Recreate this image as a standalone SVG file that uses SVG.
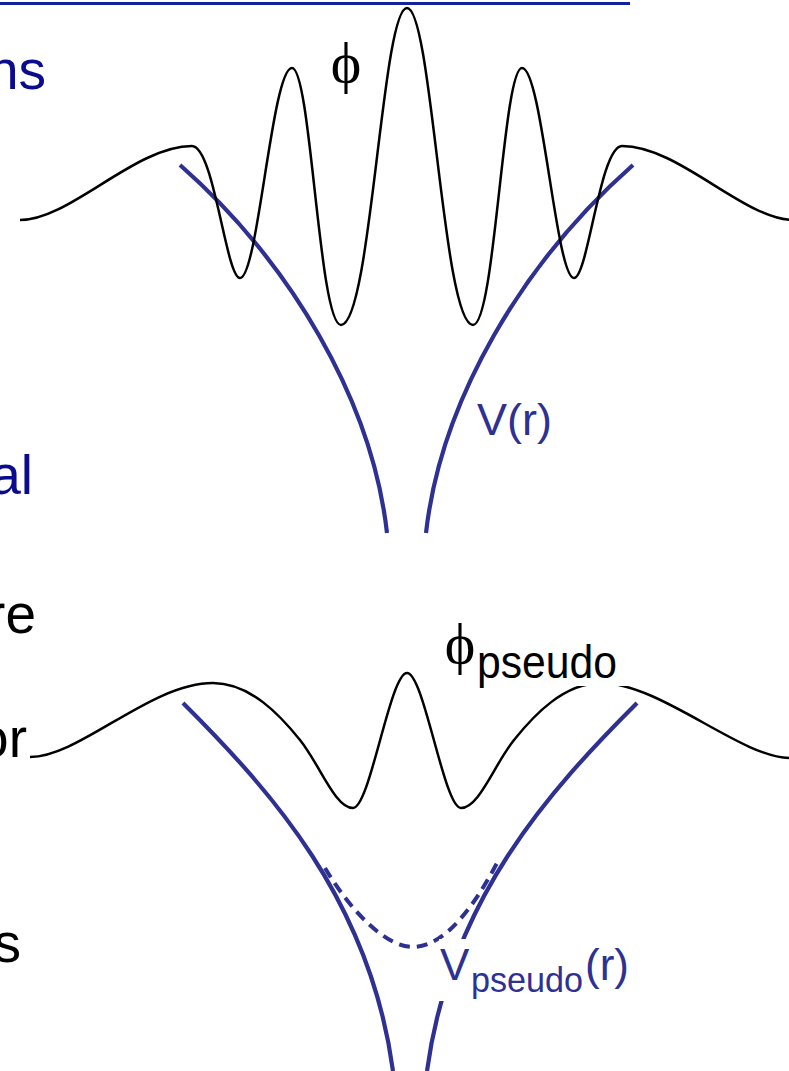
<svg xmlns="http://www.w3.org/2000/svg" width="789" height="1071" viewBox="0 0 789 1071">
<style>
.wf{fill:none;stroke:#000;stroke-width:2.5;stroke-linejoin:round}
.pot{fill:none;stroke:#2e3192;stroke-width:4.2}
.dash{fill:none;stroke:#2e3192;stroke-width:4;stroke-dasharray:11 7}
.side{font-family:"Liberation Sans",Arial,sans-serif;font-size:55px;text-anchor:end}
.navy{fill:#0b0b8e}
.blk{fill:#000}
.vlab{font-family:"Liberation Sans",Arial,sans-serif;fill:#2e3192}
.phi{font-family:"Liberation Serif","DejaVu Serif",serif;fill:#000}
.sub{font-family:"Liberation Sans",Arial,sans-serif;fill:#000}
</style>
<rect width="789" height="1071" fill="#fff"/>
<g id="rule"><line x1="0" y1="3.5" x2="630" y2="3.5" stroke="#1221a0" stroke-width="3"/></g>
<g id="side-text">
<text class="side navy" x="46" y="89">ns</text>
<text class="side navy" x="33" y="494">al</text>
<text class="side blk" x="36" y="633">re</text>
<text class="side blk" x="27" y="757">or</text>
<text class="side blk" x="21" y="962">s</text>
</g>
<g id="potential-top">
<path class="pot" d="M180,165 C290,262 372,400 387,533"/>
<path class="pot" d="M633,165 C523,262 441,400 426,533"/>
</g>
<g id="wavefunction-top">
<path class="wf" d="M20,220 C70,220 135,146 192,146 C214,146 226,278 240,278 C258,278 272,68 292,68 C311,68 319,325 341,325 C371,325 382,8 407,8 C432,8 443,325 473,325 C495,325 503,68 522,68 C542,68 556,278 574,278 C588,278 600,146 622,146 C679,146 744,220 794,220"/>
</g>
<g id="label-phi"><text class="phi" x="346" y="82" font-size="58" text-anchor="middle">ϕ</text></g>
<g id="label-V"><text class="vlab" x="477" y="435" font-size="45">V(r)</text></g>
<g id="potential-bottom">
<path class="pot" d="M183,703 C270,790 370,900 393,1071"/>
<path class="pot" d="M637,703 C550,790 450,900 427,1071"/>
<path class="dash" d="M325,868 C350,910 385,947 413,947 C445,947 475,905 497,863"/>
</g>
<g id="wavefunction-bottom">
<path class="wf" d="M30,757 C80,757 150,683 213,683 C250,683 280,715 300,740 C320,765 335,808 353,808 C370,808 390,673 407,673 C424,673 444,808 461,808 C479,808 494,765 514,740 C534,715 564,683 601,683 C660,683 740,757 789,758"/>
</g>
<g id="label-phi-pseudo">
<rect x="476" y="640" width="156" height="46" fill="#fff"/>
<text class="phi" x="460" y="663" font-size="58" text-anchor="middle">ϕ</text>
<text class="sub" x="477" y="678" font-size="46" textLength="140" lengthAdjust="spacingAndGlyphs">pseudo</text>
</g>
<g id="label-V-pseudo">
<rect x="439" y="939" width="196" height="62" fill="#fff"/>
<text class="vlab" x="440" y="980" font-size="44">V</text>
<text class="vlab" x="471" y="992" font-size="35" textLength="112" lengthAdjust="spacingAndGlyphs">pseudo</text>
<text class="vlab" x="585" y="980" font-size="44">(r)</text>
</g>
</svg>
